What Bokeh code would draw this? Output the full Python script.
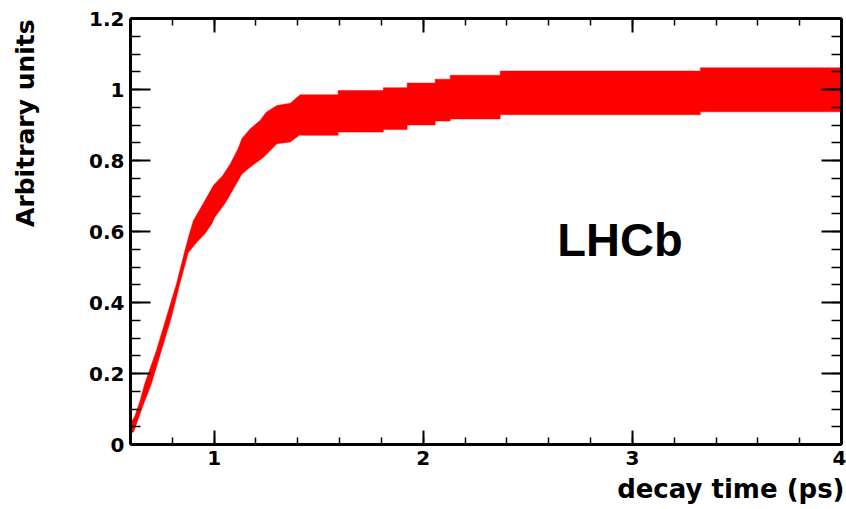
from bokeh.plotting import figure
from bokeh.layouts import row
from bokeh.models import Range1d, FixedTicker, LinearAxis, Label, CustomJSTickFormatter, Title
from bokeh.embed import file_html
from bokeh.resources import INLINE

# ---- data ----
# rising part of the band: upper and lower edges
rise_x_upper = [0.600, 0.621, 0.645, 0.668, 0.724, 0.772, 0.820, 0.860, 0.880, 0.901,
                0.956, 0.997, 1.040, 1.077, 1.116, 1.133, 1.172, 1.220, 1.249, 1.300, 1.364, 1.411]
rise_y_upper = [0.059, 0.080, 0.122, 0.171, 0.265, 0.359, 0.453, 0.546, 0.590, 0.631,
                0.687, 0.730, 0.757, 0.790, 0.835, 0.862, 0.889, 0.913, 0.936, 0.955, 0.961, 0.985]
rise_x_lower = [0.600, 0.615, 0.660, 0.700, 0.748, 0.796, 0.836, 0.876, 0.920, 0.956,
                0.989, 1.003, 1.055, 1.100, 1.133, 1.172, 1.236, 1.300, 1.364, 1.411]
rise_y_lower = [0.031, 0.036, 0.110, 0.171, 0.265, 0.359, 0.453, 0.540, 0.572, 0.594,
                0.622, 0.640, 0.682, 0.728, 0.762, 0.781, 0.809, 0.847, 0.852, 0.873]
# plateau: step edges
step_x = [1.411, 1.593, 1.809, 1.923, 2.057, 2.129, 2.368, 3.325, 4.0]
step_hi = [0.985, 0.997, 1.005, 1.018, 1.029, 1.040, 1.052, 1.061]
step_lo = [0.871, 0.880, 0.887, 0.900, 0.911, 0.917, 0.929, 0.937]

x_major = [1, 2, 3, 4]
x_minor = [0.6, 0.8, 1.0, 1.2, 1.4, 1.6, 1.8, 2.0, 2.2, 2.4, 2.6, 2.8, 3.0, 3.2, 3.4, 3.6, 3.8, 4.0]
y_major = [0, 0.2, 0.4, 0.6, 0.8, 1.0, 1.2]
y_minor = [round(i * 0.05, 2) for i in range(25)]

x_title = "decay time (ps)"
y_title = "Arbitrary units"
tag = "LHCb"

# ---- build band outline ----
ux, uy = list(rise_x_upper), list(rise_y_upper)
lx, ly = list(rise_x_lower), list(rise_y_lower)
for i in range(len(step_hi)):
    ux += [step_x[i], step_x[i + 1]]
    uy += [step_hi[i], step_hi[i]]
    lx += [step_x[i], step_x[i + 1]]
    ly += [step_lo[i], step_lo[i]]
px = ux + lx[::-1]
py = uy + ly[::-1]

FONT = "DejaVu Sans"
W, H = 846, 509
LW = 44  # width of the strip holding the y title

p = figure(width=W - LW, height=H, x_range=Range1d(0.6, 4), y_range=Range1d(0, 1.2),
           output_backend="svg", toolbar_location=None,
           min_border_left=130 - LW, min_border_right=5, min_border_top=18, min_border_bottom=65,
           x_axis_type=None, y_axis_type=None)
p.outline_line_color = None
p.background_fill_color = "white"
p.border_fill_color = "white"
p.xgrid.visible = False
p.ygrid.visible = False

p.patch(px, py, fill_color="#ff0000", line_color="#ff0000", line_width=0.5)

fmt = CustomJSTickFormatter(code="return (Math.round(tick*10)/10).toString();")
blank = CustomJSTickFormatter(code="return '';")

def style(ax, major_len, minor_len, labels):
    ax.axis_line_color = "black"
    ax.axis_line_width = 3
    ax.major_tick_in = major_len
    ax.major_tick_out = 0
    ax.minor_tick_in = minor_len
    ax.minor_tick_out = 0
    ax.major_tick_line_color = "black"
    ax.major_tick_line_width = 2
    ax.minor_tick_line_color = "black"
    ax.minor_tick_line_width = 1.5
    if labels:
        ax.formatter = fmt
        ax.major_label_text_font = FONT
        ax.major_label_text_font_style = "bold"
        ax.major_label_text_font_size = "20px"
        ax.major_label_text_color = "black"
        ax.major_label_standoff = 6
    else:
        ax.formatter = blank
        ax.major_label_text_font_size = "0px"
        ax.major_label_standoff = 0

xb = LinearAxis(ticker=FixedTicker(ticks=x_major, minor_ticks=x_minor))
style(xb, 14, 7, True)
p.add_layout(xb, "below")
xt = LinearAxis(ticker=FixedTicker(ticks=x_major, minor_ticks=x_minor))
style(xt, 14, 7, False)
p.add_layout(xt, "above")
yl = LinearAxis(ticker=FixedTicker(ticks=y_major, minor_ticks=y_minor))
style(yl, 20, 10, True)
p.add_layout(yl, "left")
yr = LinearAxis(ticker=FixedTicker(ticks=y_major, minor_ticks=y_minor))
style(yr, 20, 10, False)
p.add_layout(yr, "right")

p.add_layout(Title(text=x_title, align="right", offset=-3, standoff=9,
                   text_font=FONT, text_font_style="bold", text_font_size="26px",
                   text_color="black"), "below")
p.add_layout(Label(x=2.641, y=0.577, text=tag, text_font="Liberation Sans",
                   text_font_style="bold", text_font_size="47px",
                   text_align="left", text_baseline="alphabetic", text_color="black"))

# strip on the left for the rotated y title
q = figure(width=LW, height=H, x_range=Range1d(0, LW), y_range=Range1d(0, H),
           output_backend="svg", toolbar_location=None, min_border=0,
           x_axis_type=None, y_axis_type=None)
q.outline_line_color = None
q.background_fill_color = "white"
q.border_fill_color = "white"
q.xgrid.visible = False
q.ygrid.visible = False
q.add_layout(Label(x=25, y=H - 1, angle=1.5707963, text=y_title,
                   text_font=FONT, text_font_style="bold", text_font_size="25px",
                   text_align="right", text_baseline="alphabetic", text_color="black"))

layout = row(q, p, spacing=0)
open("out.html", "w").write(file_html(layout, INLINE))
